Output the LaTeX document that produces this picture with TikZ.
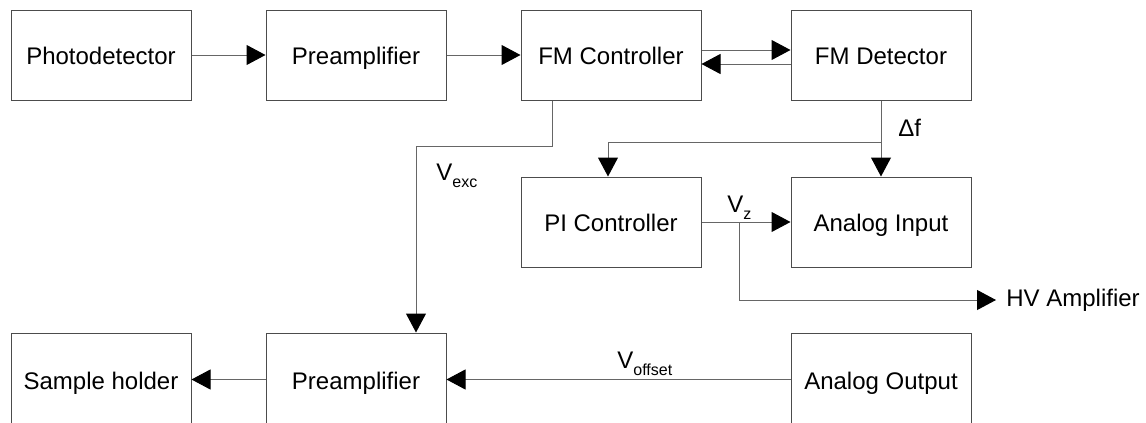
\documentclass[tikz,border=0pt]{standalone}
\usepackage{fontspec}
\setmainfont{Liberation Sans}
\usepackage{tikz}
\usetikzlibrary{arrows.meta, positioning}
\newcommand{\lowsub}[1]{\raisebox{-3.5pt}{\fontsize{8}{9}\selectfont #1}}

\begin{document}
\begin{tikzpicture}[x=0.5pt, y=-0.5pt,
  >={Triangle[length=9.5pt, width=10pt, color=black]},
  block/.style={draw=black!70, line width=0.5pt, minimum width=90pt, minimum height=45pt, inner sep=0pt, text height=9.5pt, text depth=0pt, font=\fontsize{12}{14}\selectfont},
  link/.style={draw=black!60, line width=0.5pt, ->},
  tag/.style={inner sep=0pt, font=\fontsize{12}{14}\selectfont}]
  \useasboundingbox (0,0) rectangle (1146,423);
  % top row
  \node[block] (photo) at (101,55) {Photodetector};
  \node[block] (preTop) at (356,55) {Preamplifier};
  \node[block] (fmc) at (611,55) {FM Controller};
  \node[block] (fmd) at (881,55) {FM Detector};
  % middle row
  \node[block] (pic) at (611,222) {PI Controller};
  \node[block] (ain) at (881,222) {Analog Input};
  % bottom row (cut by the page edge)
  \node[block, minimum height=46.5pt] (sample) at (101,379.5) {Sample holder};
  \node[block, minimum height=46.5pt] (preBot) at (356,379.5) {Preamplifier};
  \node[block, minimum height=46.5pt] (aout) at (881,379.5) {Analog Output};
  % signal path
  \draw[link] (photo) -- (preTop);
  \draw[link] (preTop) -- (fmc);
  \draw[link] ([yshift=2.5pt]fmc.east) -- ([yshift=2.5pt]fmd.west);
  \draw[link] ([yshift=-4.5pt]fmd.west) -- ([yshift=-4.5pt]fmc.east);
  % excitation
  \draw[link] ([xshift=-29.5pt]fmc.south) -- ++(0,46) -| ([xshift=30pt]preBot.north);
  \node[tag, anchor=base west] (vexc) at (436,180) {V\lowsub{exc}};
  % frequency shift
  \coordinate (df) at (881,142);
  \draw[link] (fmd) -- (ain);
  \draw[link] (df) -| ([xshift=-1.5pt]pic.north);
  \node[tag, anchor=base west] (dflbl) at (898,136) {Δf};
  % z output
  \coordinate (vzsplit) at (739.5,222);
  \node[tag, anchor=west, inner xsep=5pt] (hv) at (996,300) {HV Amplifier};
  \draw[link] (pic) -- (ain);
  \draw[link] (vzsplit) |- (hv.west);
  \node[tag, anchor=base west] (vz) at (727,212) {V\lowsub{z}};
  % offset
  \draw[link] (aout) -- (preBot);
  \node[tag, anchor=base west] (voff) at (617,368) {V\lowsub{offset}};
  \draw[link] (preBot) -- (sample);
\end{tikzpicture}
\end{document}
